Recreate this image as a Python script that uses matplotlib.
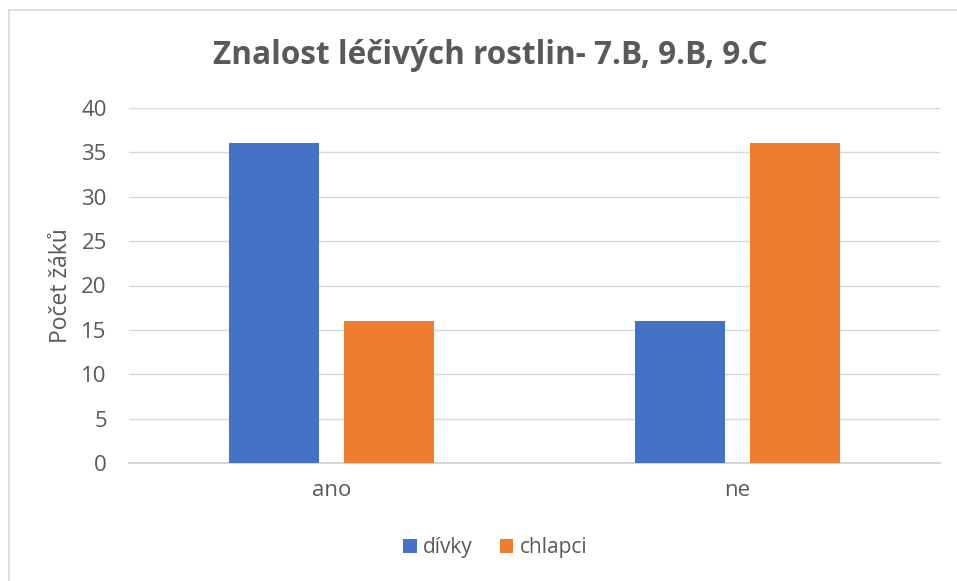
import matplotlib.pyplot as plt
import matplotlib.patches as mpatches
import numpy as np

categories = ['ano', 'ne']
divky = [36, 16]
chlapci = [16, 36]
series_names = ['dívky', 'chlapci']
title = 'Znalost léčivých rostlin- 7.B, 9.B, 9.C'
y_label = 'Počet žáků'
y_ticks = [0, 5, 10, 15, 20, 25, 30, 35, 40]

blue = '#4472C4'
orange = '#ED7D31'
text_gray = '#595959'

plt.rcParams['font.family'] = ['Open Sans', 'DejaVu Sans']

fig = plt.figure(figsize=(9.57, 5.81), dpi=100)
# chart border (only left/top edges visible in the crop)
fig.patches.append(mpatches.Rectangle((8.5 / 957, -0.1), 1.2, 1 - 9.5 / 581 + 0.1,
                                      transform=fig.transFigure, fill=False,
                                      edgecolor='#D9D9D9', linewidth=1.2))

ax = fig.add_axes([129 / 957, 1 - 463 / 581, (940 - 129) / 957, (463 - 108) / 581])

x = np.arange(len(categories))
w = 0.222
off = 0.1418
ax.bar(x - off, divky, w, color=blue, label=series_names[0], zorder=3)
ax.bar(x + off, chlapci, w, color=orange, label=series_names[1], zorder=3)

ax.set_xlim(-0.5, 1.5)
ax.set_ylim(0, 40)
ax.set_yticks(y_ticks)
ax.set_xticks(x)
ax.set_xticklabels(categories)
ax.grid(axis='y', color='#D9D9D9', linewidth=1, zorder=0)
for s in ['top', 'right', 'left']:
    ax.spines[s].set_visible(False)
ax.spines['bottom'].set_color('#D0D0D0')
ax.spines['bottom'].set_linewidth(1.2)
ax.tick_params(length=0, labelsize=16, labelcolor=text_gray)
ax.tick_params(axis='y', pad=16)
ax.tick_params(axis='x', pad=12)

ax.set_ylabel(y_label, fontsize=16.5, color=text_gray, labelpad=6)

fig.text(490 / 957, 1 - 55 / 581, title, ha='center', va='center',
         fontsize=22.7, fontweight='bold', color=text_gray)

fig.legend(loc='center', bbox_to_anchor=(495 / 957, 1 - 548 / 581), ncol=2,
           frameon=False, fontsize=15, handlelength=0.65, handleheight=0.65,
           handletextpad=0.3, columnspacing=1.3, labelcolor=text_gray)

fig.savefig('out.png', dpi=100)
